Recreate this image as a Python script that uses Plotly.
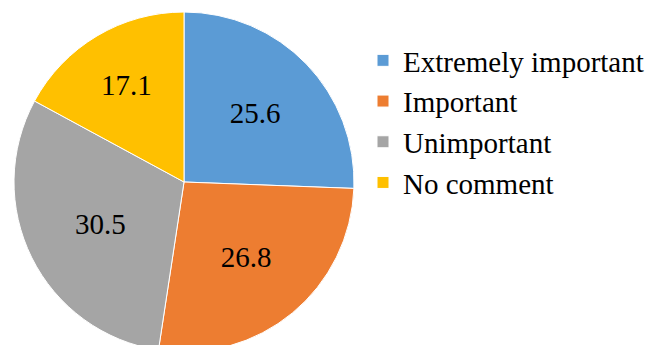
import plotly.graph_objects as go

categories = ["Extremely important", "Important", "Unimportant", "No comment"]
values = [25.6, 26.8, 30.5, 17.1]
colors = ["#5B9BD5", "#ED7D31", "#A5A5A5", "#FFC000"]

W, H = 650, 365
fig = go.Figure(go.Pie(
    labels=categories,
    values=values,
    sort=False,
    direction="clockwise",
    rotation=0,
    marker=dict(colors=colors, line=dict(color="white", width=1)),
    textinfo="value",
    texttemplate="%{value:.1f}",
    textposition="inside",
    insidetextorientation="horizontal",
    textfont=dict(family="Liberation Serif, Times New Roman, serif", size=29, color="black"),
    domain=dict(x=[14 / W, 354 / W], y=[(H - 352) / H, (H - 12) / H]),
    hoverinfo="label+value",
))

fig.update_layout(
    width=W, height=H,
    margin=dict(l=0, r=0, t=0, b=0, autoexpand=False),
    paper_bgcolor="white",
    plot_bgcolor="white",
    showlegend=True,
    legend=dict(
        x=363 / W, y=(H - 35) / H, xanchor="left", yanchor="top",
        font=dict(family="Liberation Serif, Times New Roman, serif", size=29, color="black"),
        bgcolor="rgba(0,0,0,0)",
        itemclick=False,
    ),
)

fig.write_html("out.html")
